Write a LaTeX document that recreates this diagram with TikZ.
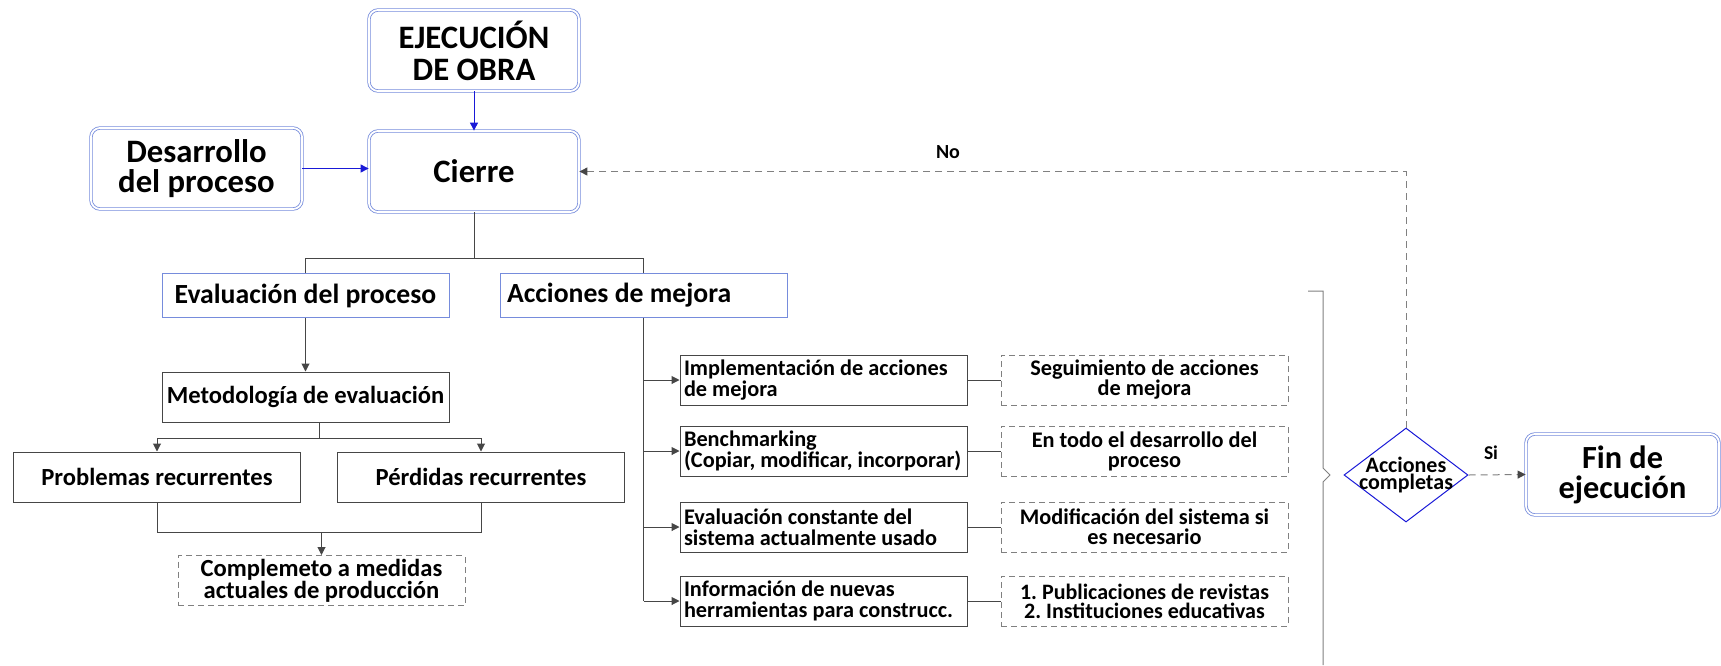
\documentclass[tikz,border=0pt]{standalone}
\usepackage{fontspec}
\setmainfont{Carlito}
\usetikzlibrary{arrows.meta}
\usetikzlibrary{shapes.geometric}

\definecolor{boxblue}{RGB}{118,140,220}
\definecolor{arrblue}{RGB}{25,25,215}
\definecolor{dkline}{RGB}{70,70,70}
\definecolor{dshgray}{RGB}{128,128,128}

\newcommand{\nodefont}[2]{\fontsize{#1}{#2}\selectfont\bfseries\frenchspacing}

\begin{document}
\begin{tikzpicture}[x=1pt,y=-1pt,
  mainbox/.style={draw=boxblue,double=white,double distance=1.8pt,line width=0.8pt,
    rounded corners=9pt,minimum width=210pt,minimum height=81pt,inner sep=0pt,
    align=flush center,font=\nodefont{32.7}{32}},
  headbox/.style={draw=boxblue,line width=1pt,minimum width=287pt,minimum height=44pt,
    inner sep=0pt,font=\nodefont{27.7}{28}},
  plainbox/.style={draw=dkline,line width=1pt,minimum width=287pt,minimum height=50pt,
    inner sep=0pt,align=flush center,font=\nodefont{24.6}{24}},
  actbox/.style={draw=dkline,line width=1pt,minimum width=287pt,minimum height=50pt,
    inner xsep=4pt,inner ysep=0pt,text width=279pt,align=flush left,font=\nodefont{22.3}{21}},
  notebox/.style={draw=dshgray,dash pattern=on 6pt off 4pt,line width=1pt,
    minimum width=287pt,minimum height=50pt,inner sep=0pt,text width=280pt,
    align=flush center,font=\nodefont{22.3}{20}},
  link/.style={draw=dkline,line width=1pt},
  arr/.style={link,-{Triangle[length=8pt,width=8pt]}},
  bluearr/.style={draw=arrblue,line width=1pt,-{Triangle[length=8pt,width=8pt]}},
  dasharr/.style={draw=dshgray,line width=1pt,dash pattern=on 7pt off 5pt,
    -{Triangle[length=8pt,width=8pt,color=dkline]}},
]
  \useasboundingbox (0,0) rectangle (1721,665);

  % top of the chart
  \node[mainbox] (ejec) at (474,50.5) {EJECUCIÓN\\DE OBRA};
  \node[mainbox] (cierre) at (474,171.5) {Cierre};
  \node[mainbox,minimum width=211pt,font=\nodefont{32.7}{30}] (desar) at (196.5,168.5) {Desarrollo\\del proceso};
  \draw[bluearr] (ejec) -- (cierre);
  \draw[bluearr] (desar.east) -- (desar.east -| cierre.west);

  \node[headbox] (evalp) at (305.5,295.5) {Evaluación del proceso};
  \node[headbox,inner xsep=7pt,text width=273pt,align=flush left] (accm) at (643.5,295) {Acciones de mejora};
  \draw[link] (cierre.south) -- ++(0,46.5) coordinate (split);
  \draw[link] (evalp.north) |- (split) -| (accm.north);

  % evaluation branch
  \node[plainbox] (metod) at (305.5,397) {Metodología de evaluación};
  \node[plainbox] (probl) at (157,477) {Problemas recurrentes};
  \node[plainbox] (perd) at (481,477) {Pérdidas recurrentes};
  \node[notebox,font=\nodefont{24.6}{22}] (compl) at (321.5,580.5) {Complemeto a medidas\\actuales de producción};
  \draw[arr] (evalp) -- (metod);
  \draw[link] ([xshift=13.5pt]metod.south) -- ++(0,16) coordinate (msplit);
  \draw[arr] (msplit) -| (probl.north);
  \draw[arr] (msplit) -| (perd.north);
  \draw[link] (probl.south) -- ++(0,30) coordinate (jn) -| (perd.south);
  \draw[arr] (jn -| compl.north) -- (compl.north);

  % improvement actions
  \node[actbox] (imp) at (823.5,380) {Implementación de acciones\\de mejora};
  \node[actbox] (bench) at (823.5,451) {Benchmarking\\(Copiar, modificar, incorporar)};
  \node[actbox] (evc) at (823.5,527) {Evaluación constante del\\sistema actualmente usado};
  \node[actbox] (info) at (823.5,601) {Información de nuevas\\herramientas para construcc.};
  \node[notebox] (seg) at (1144.5,380) {Seguimiento de acciones\\de mejora};
  \node[notebox] (todo) at (1144.5,451) {En todo el desarrollo del\\proceso};
  \node[notebox] (modif) at (1144.5,527) {Modificación del sistema si\\es necesario};
  \node[notebox,font=\nodefont{22}{19}] (publ) at (1144.5,601) {1. Publicaciones de revistas\\2. Instituciones educativas};
  \draw[link] (accm.south) -- (accm.south |- info.west);
  \draw[arr] (accm.south |- imp.west) -- (imp.west);
  \draw[arr] (accm.south |- bench.west) -- (bench.west);
  \draw[arr] (accm.south |- evc.west) -- (evc.west);
  \draw[arr] (accm.south |- info.west) -- (info.west);
  \draw[link] (imp) -- (seg);
  \draw[link] (bench) -- (todo);
  \draw[link] (evc) -- (modif);
  \draw[link] (info) -- (publ);

  % brace
  \draw[draw=dshgray,line width=1pt] (1308,291) -- (1323,291) -- (1323,468) -- (1330,475) -- (1323,482) -- (1323,665);

  % decision
  \node[diamond,draw=arrblue,line width=1pt,minimum width=124pt,minimum height=94pt,inner sep=0pt,
    label={[font=\nodefont{22}{13},align=flush center]center:Acciones\\completas}] (dec) at (1406,475) {};
  \node[mainbox,minimum width=193pt,font=\nodefont{32.3}{30}] (fin) at (1622.5,474.5) {Fin de\\ejecución};
  \draw[dasharr] (dec.north) |- (cierre.east);
  \draw[dasharr] (dec.east) -- (fin.west);
  \node[font=\nodefont{20}{20}] (no) at (948,152) {No};
  \node[font=\nodefont{19.5}{20}] (si) at (1491,453) {Si};
\end{tikzpicture}
\end{document}
